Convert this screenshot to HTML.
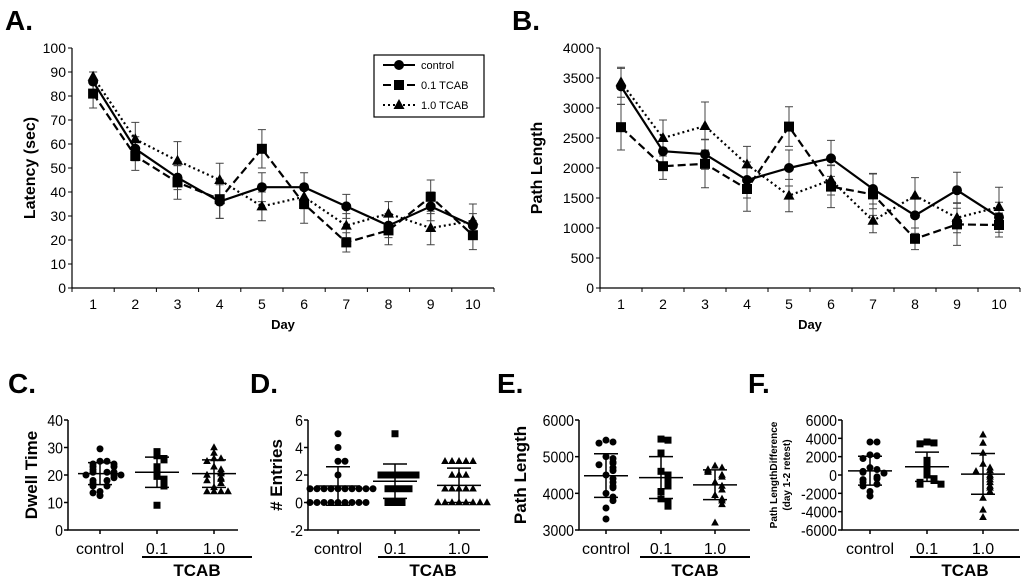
<!DOCTYPE html>
<html><head><meta charset="utf-8"><style>
body{margin:0;background:#fff}
svg{display:block;font-family:"Liberation Sans",Arial,sans-serif}
</style></head><body>
<svg id="fig" width="1024" height="581" viewBox="0 0 1024 581" xmlns="http://www.w3.org/2000/svg"></svg>
<script>
// ---------- data ----------
const days = [1,2,3,4,5,6,7,8,9,10];
const seriesNames = ["control","0.1 TCAB","1.0 TCAB"];
const latControl = [86,58,46,36,42,42,34,26,34,26];
const latLow = [81,55,44,37,58,35,19,24,38,22];
const latHigh = [88,62,53,45,34,38,26,31,25,28];
const latErrControl = [4,5,5,7,6,6,5,5,6,5];
const latErrLow = [6,6,7,8,8,8,4,6,7,6];
const latErrHigh = [2,7,8,7,6,5,5,5,7,7];
const latTicks = [0,10,20,30,40,50,60,70,80,90,100];

const pathControl = [3360,2280,2230,1800,2000,2160,1650,1210,1630,1180];
const pathLow = [2680,2030,2070,1650,2690,1690,1560,820,1060,1050];
const pathHigh = [3430,2500,2700,2060,1540,1800,1120,1540,1170,1350];
const pathErrControl = [300,200,250,300,300,300,250,300,300,250];
const pathErrLow = [380,220,400,370,330,350,350,180,350,200];
const pathErrHigh = [250,300,400,300,270,250,200,300,250,330];
const pathTicks = [0,500,1000,1500,2000,2500,3000,3500,4000];

const groups = ["control","0.1","1.0"];
const dwellControl = [29.5,25,25,24,24,23,23,22,21,21,21,20,20,20,19,18,18,17,16,16,14,12.5,13.5];
const dwellLow = [28.5,27,26,25.5,23,21,19.5,18.5,18,17,16,9];
const dwellHigh = [30,28,26,26,25,23,22,21,20.5,20,19,18.5,18,17,15.5,14,14,14,14];
const dwellStats = [[20.5,24.5,16.5],[21,26.5,15.5],[20.5,25.5,15.5]];
const dwellTicks = [0,10,20,30,40];

const entControl = [5,4,3,3,2,1,1,1,1,1,1,1,1,1,1,0,0,0,0,0,0,0,0,0];
const entLow = [5,2,2,2,2,2,2,1,1,1,1,0,0,0];
const entHigh = [3,3,3,3,3,2,2,2,1,1,1,1,1,0,0,0,0,0,0,0,0];
const entStats = [[1.2,2.6,-0.2],[1.55,2.8,0.3],[1.25,2.5,0]];
const entTicks = [-2,0,2,4,6];

const plControl = [5450,5400,5370,5000,4950,4850,4820,4780,4700,4620,4500,4400,4300,4200,4150,4000,3900,3800,3600,3300];
const plLow = [5480,5450,5100,4600,4500,4400,4300,4200,4050,3850,3750,3650];
const plHigh = [4750,4700,4650,4620,4580,4500,4450,4300,4200,4100,3950,3850,3800,3700,3200];
const plStats = [[4480,5080,3890],[4430,5000,3860],[4230,4640,3830]];
const plTicks = [3000,4000,5000,6000];

const diffControl = [3600,3600,2200,2100,1800,800,600,400,300,200,-200,-400,-500,-800,-1000,-1200,-1800,-2300];
const diffLow = [3600,3500,3400,1600,1000,500,0,-400,-600,-800,-1000,-1000];
const diffHigh = [4400,3500,2400,1200,800,500,400,0,-200,-500,-800,-1200,-1400,-1800,-2500,-3800,-4600];
const diffStats = [[450,2050,-1100],[900,2500,-700],[100,2350,-2100]];
const diffTicks = [-6000,-4000,-2000,0,2000,4000,6000];

// ---------- helpers ----------
const NS="http://www.w3.org/2000/svg";
const svg=document.getElementById('fig');
function mk(tag,attrs,parent,text){
  const e=document.createElementNS(NS,tag);
  for(const k in attrs) e.setAttribute(k,attrs[k]);
  if(text!==undefined) e.textContent=text;
  (parent||svg).appendChild(e); return e;
}
function marker(g,shape,x,y,s){
  let m;
  if(shape==='circle') m=mk('circle',{cx:x,cy:y,r:s,fill:'#000'},g);
  else if(shape==='square') m=mk('rect',{x:x-s,y:y-s,width:2*s,height:2*s,fill:'#000'},g);
  else m=mk('polygon',{points:`${x},${y-s*1.2} ${x-s*1.1},${y+s*0.8} ${x+s*1.1},${y+s*0.8}`,fill:'#000'},g);
  return m;
}
function label(txt,x,y){
  const t=mk('text',{x:x,y:y,'font-size':28,'font-weight':'bold'},svg,txt);
  
  
}

// ---------- line charts ----------
function lineChart(o){
  const g=mk('g',{});
  
  
  const x0=o.x0,x1=o.x1,y0=o.y0,y1=o.y1;
  const ymax=o.ticks[o.ticks.length-1];
  const sy=v=>y0-(v/ymax)*(y0-y1);
  const bw=(x1-x0)/days.length;
  const sx=i=>x0+bw*(i+0.5);
  const ax=mk('path',{d:`M${x0},${y1}V${y0}H${x1}`,stroke:'#000','stroke-width':1.2,fill:'none'},g);
  
  
  o.ticks.forEach(t=>{
    mk('line',{x1:x0-4,x2:x0,y1:sy(t),y2:sy(t),stroke:'#000'},g);
    const tl=mk('text',{x:x0-6,y:sy(t)+5,'font-size':14,'text-anchor':'end'},g,t);
    
    
  });
  for(let i=0;i<=days.length;i++) mk('line',{x1:x0+bw*i,x2:x0+bw*i,y1:y0,y2:y0+4,stroke:'#000'},g);
  days.forEach((d,i)=>{
    const tl=mk('text',{x:sx(i),y:y0+21,'font-size':14,'text-anchor':'middle'},g,d);
    
    
  });
  const yt=mk('text',{transform:`translate(${o.ylx},${(y0+y1)/2}) rotate(-90)`,'font-size':16,'font-weight':'bold','text-anchor':'middle'},g,o.ytitle);
  
  
  const xt=mk('text',{x:(x0+x1)/2,y:y0+41,'font-size':13,'font-weight':'bold','text-anchor':'middle'},g,'Day');
  
  
  const dashes=['none','8,4','2,3'];
  const shapes=['circle','square','triangle'];
  o.series.forEach((s,k)=>{
    s.err.forEach((e,i)=>{
      const x=sx(i);
      mk('path',{d:`M${x},${sy(s.vals[i]-e)}V${sy(s.vals[i]+e)}M${x-4},${sy(s.vals[i]-e)}h8M${x-4},${sy(s.vals[i]+e)}h8`,stroke:'#444','stroke-width':1,fill:'none'},g);
    });
  });
  o.series.forEach((s,k)=>{
    const p=mk('polyline',{points:s.vals.map((v,i)=>sx(i)+','+sy(v)).join(' '),fill:'none',stroke:'#000','stroke-width':2.2,'stroke-dasharray':dashes[k]},g);
    
    
    s.vals.forEach((v,i)=>{
      const m=marker(g,shapes[k],sx(i),sy(v),5);
      
      
    });
  });
  if(o.legend){
    const lg=mk('g',{});
    
    
    mk('rect',{x:374,y:55,width:110,height:62,fill:'#fff',stroke:'#000','stroke-width':1.2},lg);
    seriesNames.forEach((n,k)=>{
      const yy=65+k*20;
      const e=mk('g',{},lg);
      
      
      mk('line',{x1:383,x2:415,y1:yy,y2:yy,stroke:'#000','stroke-width':2,'stroke-dasharray':dashes[k]},e);
      marker(e,shapes[k],399,yy,5);
      mk('text',{x:421,y:yy+4,'font-size':11},e,n);
    });
  }
}
label('A.',5,30); label('B.',512,30);
lineChart({name:'latency-chart',x0:72,x1:494,y0:288,y1:48,ticks:latTicks,ylx:35,ytitle:'Latency (sec)',legend:true,
  series:[{vals:latControl,err:latErrControl},{vals:latLow,err:latErrLow},{vals:latHigh,err:latErrHigh}]});
lineChart({name:'path-length-chart',x0:600,x1:1020,y0:288,y1:48,ticks:pathTicks,ylx:542,ytitle:'Path Length',legend:false,
  series:[{vals:pathControl,err:pathErrControl},{vals:pathLow,err:pathErrLow},{vals:pathHigh,err:pathErrHigh}]});

// ---------- scatter charts ----------
function scatter(o){
  const g=mk('g',{});
  
  
  const y0=530,y1=420,x0=o.x0,x1=o.x1;
  const tmin=o.ticks[0],tmax=o.ticks[o.ticks.length-1];
  const sy=v=>y0-(v-tmin)/(tmax-tmin)*(y0-y1);
  mk('path',{d:`M${x0},${y1}V${y0}H${x1}`,stroke:'#000','stroke-width':1.5,fill:'none'},g);
  o.ticks.forEach(t=>{
    mk('line',{x1:x0-4,x2:x0,y1:sy(t),y2:sy(t),stroke:'#000','stroke-width':1.5},g);
    const tl=mk('text',{x:x0-5,y:sy(t)+6,'font-size':16,'text-anchor':'end',transform:`translate(${(x0-5)*0.12},0) scale(0.88,1)`},g,t);
    
    
  });
  const yt=mk('text',{transform:`translate(${o.ylx},475) rotate(-90)`,'font-size':o.ytsize||17,'font-weight':'bold','text-anchor':'middle'},g,o.ytitle);
  
  
  if(o.ytitle2){
    const y2=mk('text',{transform:`translate(${o.ylx+13},475) rotate(-90)`,'font-size':o.ytsize,'font-weight':'bold','text-anchor':'middle'},g,o.ytitle2);
    
    
  }
  const shapes=['circle','square','triangle'];
  const range=(tmax-tmin);
  o.data.forEach((vals,k)=>{
    const cx=o.cx[k];
    mk('line',{x1:cx,x2:cx,y1:y0,y2:y0+4,stroke:'#000','stroke-width':1.5},g);
    const tl=mk('text',{x:cx,y:554,'font-size':16,'text-anchor':'middle'},g,groups[k]);
    
    
    const placed=[];
    vals.forEach(v=>{
      const near=placed.filter(p=>Math.abs(p.v-v)<range*0.035);
      const n=near.length;
      const off=(n%2?1:-1)*Math.ceil(n/2)*7;
      placed.push({v:v,off:off});
    });
    placed.forEach(p=>{
      const m=marker(g,shapes[k],cx+p.off,sy(p.v),3.5);
      
      
    });
    const st=o.stats[k];
    mk('path',{d:`M${cx-22},${sy(st[0])}h44M${cx-12},${sy(st[1])}h24M${cx-12},${sy(st[2])}h24M${cx},${sy(st[1])}V${sy(st[2])}`,stroke:'#000','stroke-width':1.5,fill:'none'},g);
  });
  mk('line',{x1:o.tc[0],x2:o.tc[1],y1:557,y2:557,stroke:'#000','stroke-width':2},g);
  const tc=mk('text',{x:(o.tc[0]+o.tc[1])/2,y:576,'font-size':17,'font-weight':'bold','text-anchor':'middle'},g,'TCAB');
  
  
}
label('C.',8,393); label('D.',250,393); label('E.',497,393); label('F.',748,393);
scatter({name:'dwell-time-chart',x0:68,x1:238,ticks:dwellTicks,cx:[100,157,214],tc:[142,252],ylx:37,ytitle:'Dwell Time',
  data:[dwellControl,dwellLow,dwellHigh],stats:dwellStats});
scatter({name:'entries-chart',x0:308,x1:480,ticks:entTicks,cx:[338,395,459],tc:[378,488],ylx:282,ytitle:'# Entries',
  data:[entControl,entLow,entHigh],stats:entStats});
scatter({name:'path-length-scatter',x0:579,x1:750,ticks:plTicks,cx:[606,661,715],tc:[640,750],ylx:526,ytitle:'Path Length',
  data:[plControl,plLow,plHigh],stats:plStats});
scatter({name:'path-difference-chart',x0:842,x1:1019,ticks:diffTicks,cx:[870,927,983],tc:[910,1020],ylx:777,ytitle:'Path LengthDifference',ytitle2:'(day 1-2 retest)',ytsize:10,
  data:[diffControl,diffLow,diffHigh],stats:diffStats});
</script>
</body></html>
